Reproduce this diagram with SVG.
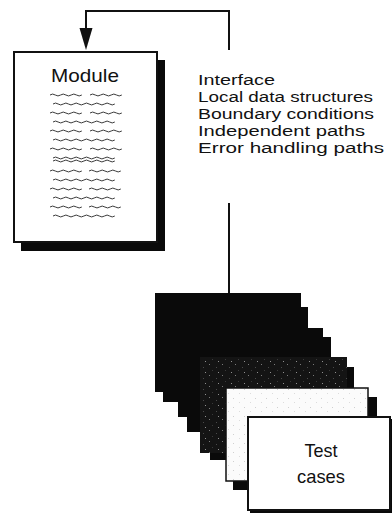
<svg xmlns="http://www.w3.org/2000/svg" xmlns:xlink="http://www.w3.org/1999/xlink" width="392" height="516" viewBox="0 0 392 516">
<style>
  .lbl { font-family: "Liberation Sans", Arial, sans-serif; fill: #111; }
  .wave { fill: none; stroke: #3a3a3a; stroke-width: 1; }
  .conn { fill: none; stroke: #111; stroke-width: 2; }
  .blk { fill: #0a0a0a; }
</style>
<defs>
  <path id="ws" d="M0,0 q2.6,-1.9 5.3,0 t5.3,0 t5.3,0 t5.3,0 t5.3,0 t5.3,0"/>
  <path id="wl" d="M0,0 q2.6,-1.9 5.15,0 t5.15,0 t5.15,0 t5.15,0 t5.15,0 t5.15,0 t5.15,0 t5.15,0 t5.15,0 t5.15,0 t5.15,0 t5.15,0"/>
  <pattern id="speck" width="13" height="11" patternUnits="userSpaceOnUse">
    <rect width="13" height="11" fill="#141414"/>
    <rect x="1" y="1" width="1" height="1" fill="#7a7a7a"/>
    <rect x="8" y="4" width="1" height="1" fill="#4a4a4a"/>
    <rect x="10" y="9" width="1" height="1" fill="#909090"/>
    <rect x="4" y="7" width="1" height="1" fill="#3a3a3a"/>
  </pattern>
  <pattern id="light" width="11" height="9" patternUnits="userSpaceOnUse">
    <rect width="11" height="9" fill="#fbfbfb"/>
    <rect x="2" y="2" width="1" height="1" fill="#d0d0d0"/>
    <rect x="8" y="6" width="1" height="1" fill="#dcdcdc"/>
  </pattern>
</defs>

<g id="connectors">
  <polyline class="conn" points="229,50 229,11 86,11 86,30"/>
  <polygon points="79.5,28 92.5,28 86,50" fill="#111"/>
  <line class="conn" x1="229" y1="203" x2="229" y2="294"/>
</g>

<g id="module">
  <rect x="21" y="60" width="144" height="191" class="blk"/>
  <rect x="14" y="52" width="143" height="190" fill="#fff" stroke="#111" stroke-width="2"/>
  <text class="lbl" x="85" y="82" font-size="19" text-anchor="middle" textLength="68" lengthAdjust="spacingAndGlyphs">Module</text>
  <g class="wave">
    <use xlink:href="#ws" x="50" y="95"/><use xlink:href="#ws" x="90" y="95"/>
    <use xlink:href="#wl" x="53" y="104"/>
    <use xlink:href="#ws" x="50" y="113"/><use xlink:href="#ws" x="90" y="113"/>
    <use xlink:href="#wl" x="53" y="122"/>
    <use xlink:href="#ws" x="50" y="131"/><use xlink:href="#ws" x="90" y="131"/>
    <use xlink:href="#wl" x="53" y="140"/>
    <use xlink:href="#ws" x="50" y="149"/><use xlink:href="#ws" x="90" y="149"/>
    <use xlink:href="#wl" x="53" y="158"/>
    <use xlink:href="#wl" x="53" y="161"/>
    <use xlink:href="#ws" x="50" y="171"/><use xlink:href="#ws" x="89" y="171"/>
    <use xlink:href="#wl" x="53" y="180"/>
    <use xlink:href="#ws" x="50" y="189"/><use xlink:href="#ws" x="89" y="189"/>
    <use xlink:href="#wl" x="53" y="198"/>
    <use xlink:href="#ws" x="50" y="207"/><use xlink:href="#ws" x="89" y="207"/>
    <use xlink:href="#wl" x="53" y="216"/>
  </g>
</g>

<g id="checklist">
  <text class="lbl" x="198" y="85" font-size="15.5" textLength="77" lengthAdjust="spacingAndGlyphs">Interface</text>
  <text class="lbl" x="198" y="102" font-size="15.5" textLength="175" lengthAdjust="spacingAndGlyphs">Local data structures</text>
  <text class="lbl" x="198" y="119" font-size="15.5" textLength="176" lengthAdjust="spacingAndGlyphs">Boundary conditions</text>
  <text class="lbl" x="198" y="136" font-size="15.5" textLength="167" lengthAdjust="spacingAndGlyphs">Independent paths</text>
  <text class="lbl" x="198" y="153" font-size="15.5" textLength="186" lengthAdjust="spacingAndGlyphs">Error handling paths</text>
</g>

<g id="test-cases">
  <g id="card1">
    <rect x="163" y="307" width="145" height="95" class="blk"/>
    <rect x="155" y="293" width="146" height="99" class="blk"/>
  </g>
  <g id="card2">
    <rect x="187" y="337" width="144" height="95" class="blk"/>
    <rect x="178" y="328" width="145" height="89" class="blk"/>
  </g>
  <g id="card3">
    <rect x="210" y="367" width="144" height="93" class="blk"/>
    <rect x="200" y="357" width="147" height="96" fill="url(#speck)"/>
  </g>
  <g id="card4">
    <rect x="233" y="397" width="144" height="93" class="blk"/>
    <rect x="226" y="388" width="142" height="93" fill="url(#light)" stroke="#111" stroke-width="1.5"/>
  </g>
  <g id="card5">
    <rect x="250" y="419" width="142" height="94" class="blk"/>
    <rect x="248" y="417" width="142" height="93" fill="#fff" stroke="#111" stroke-width="2"/>
    <text class="lbl" x="321" y="457" font-size="18.5" text-anchor="middle" textLength="33" lengthAdjust="spacingAndGlyphs">Test</text>
    <text class="lbl" x="321" y="483" font-size="18.5" text-anchor="middle" textLength="48" lengthAdjust="spacingAndGlyphs">cases</text>
  </g>
</g>
</svg>
